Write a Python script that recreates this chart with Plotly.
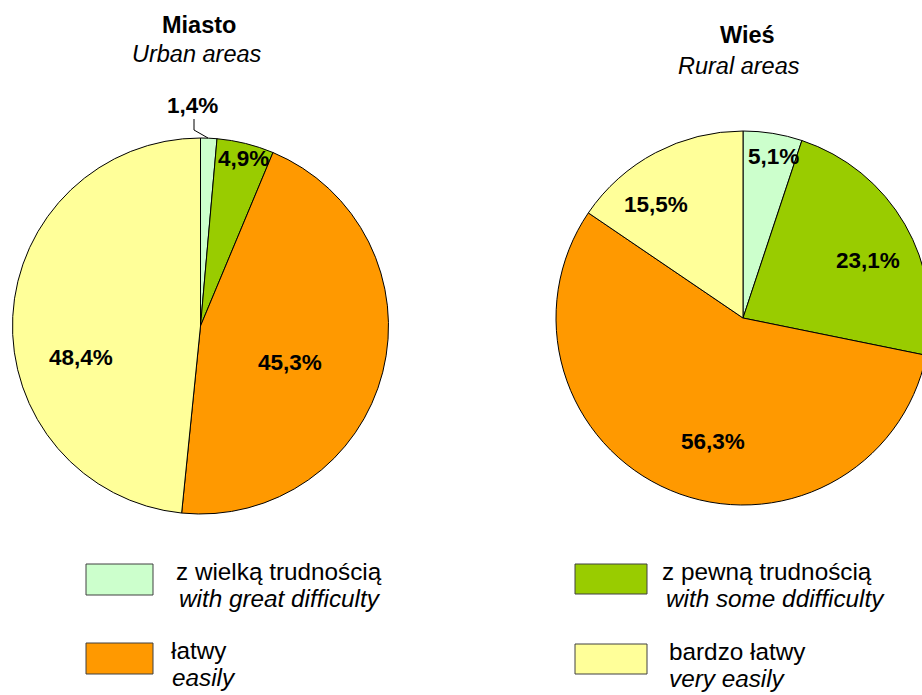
import plotly.graph_objects as go

# data
categories = ["z wielką trudnością", "z pewną trudnością", "łatwy", "bardzo łatwy"]
categories_en = ["with great difficulty", "with some ddifficulty", "easily", "very easily"]
urban = [1.4, 4.9, 45.3, 48.4]
rural = [5.1, 23.1, 56.3, 15.5]
colors = ["#CCFFCC", "#99CC00", "#FF9900", "#FFFF99"]

W, H = 940, 695
FONT = "Liberation Sans, Arial, sans-serif"


def px(x, y):
    return x / W, 1 - y / H


def pie_domain(cx, cy, r):
    return dict(x=[(cx - r) / W, (cx + r) / W], y=[1 - (cy + r) / H, 1 - (cy - r) / H])


fig = go.Figure()
for vals, dom in [(urban, pie_domain(200.5, 326, 188)), (rural, pie_domain(743, 318, 187))]:
    fig.add_trace(go.Pie(
        values=vals, labels=categories, sort=False, direction="clockwise",
        marker=dict(colors=colors, line=dict(color="black", width=1)),
        textinfo="none", hoverinfo="label+percent", showlegend=False, domain=dom,
    ))

annotations = []

def text(x, y, s, size=23, anchor="center", bold=False, italic=False):
    if bold:
        s = "<b>" + s + "</b>"
    if italic:
        s = "<i>" + s + "</i>"
    ax, ay = px(x, y)
    annotations.append(dict(x=ax, y=ay, xref="paper", yref="paper", text=s, showarrow=False,
                            xanchor=anchor, yanchor="middle",
                            font=dict(family=FONT, size=size, color="black")))

# titles
text(199, 25, "Miasto", size=23.5, bold=True)
text(197, 54, "Urban areas", size=23.5, italic=True)
text(747, 35, "Wieś", size=23.5, bold=True)
text(739, 66, "Rural areas", size=23.5, italic=True)

# slice labels
def fmt(v):
    return f"{v:.1f}".replace(".", ",") + "%"

urban_pos = [(192, 106), (243, 158), (290, 362), (81, 357)]
rural_pos = [(773, 157), (868, 260), (713, 441), (656, 205)]
for vals, pos in [(urban, urban_pos), (rural, rural_pos)]:
    for v, (x, y) in zip(vals, pos):
        text(x, y, fmt(v), size=22.5, bold=True)

# legend
legend_items = [
    (86, 564, 153, 595, 174, 177),
    (575, 564, 647, 594, 660, 664),
    (86, 643, 153, 674, 169, 170),
    (575, 644, 647, 674, 667, 667),
]
shapes = []
for i, (x0, y0, x1, y1, tx1, tx2) in enumerate(legend_items):
    a0, b0 = px(x0, y0)
    a1, b1 = px(x1, y1)
    shapes.append(dict(type="rect", xref="paper", yref="paper", x0=a0, y0=b1, x1=a1, y1=b0,
                       fillcolor=colors[i], line=dict(color="#404040", width=1)))
    ym = (y0 + y1) / 2
    text(tx1, ym - 8, categories[i], size=24.3, anchor="left")
    text(tx2, ym + 19, categories_en[i], size=24.3, anchor="left", italic=True)

# leader line for 1,4%
p = [px(194, 119), px(194, 130), px(208, 138)]
shapes.append(dict(type="path", xref="paper", yref="paper",
                   path=f"M {p[0][0]} {p[0][1]} L {p[1][0]} {p[1][1]} L {p[2][0]} {p[2][1]}",
                   line=dict(color="black", width=1)))

fig.update_layout(
    width=W, height=H, margin=dict(l=0, r=0, t=0, b=0),
    paper_bgcolor="white", plot_bgcolor="white",
    annotations=annotations, shapes=shapes,
)

fig.write_html("out.html", config={"displayModeBar": False},
               post_script="document.body.style.margin='0';document.body.style.overflow='hidden';")
